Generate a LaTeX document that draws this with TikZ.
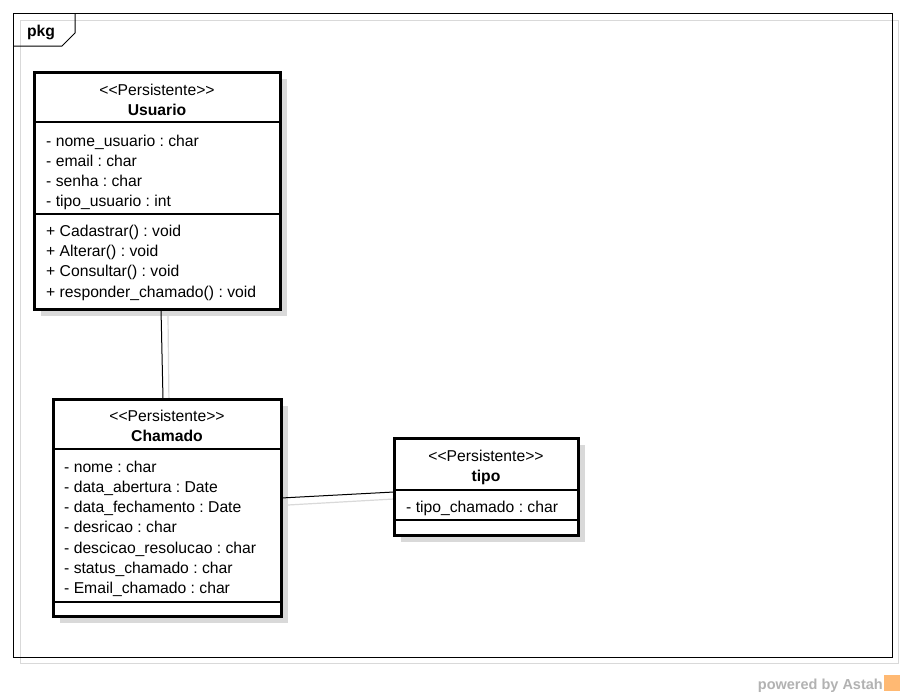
\documentclass[tikz,border=0pt]{standalone}
\usepackage{fontspec}
\setmainfont{Liberation Sans}[Ligatures=NoCommon]
\newcommand{\stereo}{{<}{<}Persistente{>}{>}}
\begin{document}
\frenchspacing
\begin{tikzpicture}[x=1pt,y=-1pt,
  box/.style={draw=black,line width=3pt,fill=white},
  sep/.style={draw=black,line width=1.2pt},
  txt/.style={inner sep=0pt,anchor=base west,font=\fontsize{15.7}{18}\selectfont},
  ctxt/.style={inner sep=0pt,anchor=base,font=\fontsize{15.7}{18}\selectfont},
  btxt/.style={inner sep=0pt,anchor=base,font=\fontsize{15.7}{18}\selectfont\bfseries},
  conn/.style={draw=black,line width=1pt},
  connsh/.style={draw=black!15,line width=1.2pt}]
\useasboundingbox (0,0) rectangle (905,696);
\fill[white] (0,0) rectangle (905,696);
% package frame
\fill[white] (13,13) rectangle (892,657);
\draw[black!15,line width=1pt] (20,20) rectangle (898,663);
\draw[black,line width=1pt] (13,13) rectangle (892,657);
\draw[black,line width=1pt] (13,46) -- (62,46) -- (75,33) -- (75,13);
\node[inner sep=0pt,anchor=base,font=\fontsize{15.7}{18}\selectfont\bfseries] (pkg) at (41,36) {pkg};
% shadows of boxes
\fill[black!15] (41,79) rectangle (287,316);
\fill[black!15] (60,406) rectangle (288,623);
\fill[black!15] (401,445) rectangle (585,542);
% connector shadows
\draw[connsh] (168,316) -- (169,406);
\draw[connsh] (288,505) -- (394,499);
% Usuario box
\draw[box] (34,72) rectangle (280,309);
\coordinate (usuB) at (161,309);
\draw[sep] (34,122) -- (280,122);
\draw[sep] (34,214) -- (280,214);
\node[ctxt] (us) at (157,95) {\stereo};
\node[btxt] (un) at (157,115) {Usuario};
\node[txt] (ua1) at (46,146) {- nome\_usuario : char};
\node[txt] (ua2) at (46,166) {- email : char};
\node[txt] (ua3) at (46,186) {- senha : char};
\node[txt] (ua4) at (46,206) {- tipo\_usuario : int};
\node[txt] (um1) at (46,236) {+ Cadastrar() : void};
\node[txt] (um2) at (46,256) {+ Alterar() : void};
\node[txt] (um3) at (46,276) {+ Consultar() : void};
\node[txt] (um4) at (46,297) {+ responder\_chamado() : void};
% Chamado box
\draw[box] (53,399) rectangle (281,616);
\coordinate (chaT) at (163,399);
\coordinate (chaR) at (281,498);
\draw[sep] (53,449) -- (281,449);
\draw[sep] (53,602) -- (281,602);
\node[ctxt] (cs) at (167,421) {\stereo};
\node[btxt] (cn) at (167,441) {Chamado};
\node[txt] (ca1) at (64,472) {- nome : char};
\node[txt] (ca2) at (64,492) {- data\_abertura : Date};
\node[txt] (ca3) at (64,512) {- data\_fechamento : Date};
\node[txt] (ca4) at (64,532) {- desricao : char};
\node[txt] (ca5) at (64,553) {- descicao\_resolucao : char};
\node[txt] (ca6) at (64,573) {- status\_chamado : char};
\node[txt] (ca7) at (64,593) {- Email\_chamado : char};
% tipo box
\draw[box] (394,438) rectangle (578,535);
\coordinate (tipL) at (394,492);
\draw[sep] (394,490) -- (578,490);
\draw[sep] (394,520) -- (578,520);
\node[ctxt] (ts) at (486,461) {\stereo};
\node[btxt] (tn) at (486,481) {tipo};
\node[txt] (ta1) at (406,512) {- tipo\_chamado : char};
% connectors
\draw[conn] (usuB) -- (chaT);
\draw[conn] (chaR) -- (tipL);
% powered by
\node[inner sep=0pt,anchor=base east,text=black!30,font=\fontsize{14.5}{16}\selectfont\bfseries] (pw) at (883,689) {powered by Astah};
\fill[orange!55] (884,675) rectangle (900,691);
\end{tikzpicture}
\end{document}
